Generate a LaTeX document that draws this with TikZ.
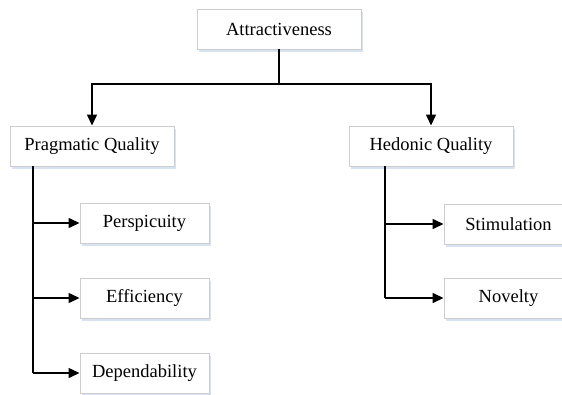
\documentclass[tikz,border=0pt]{standalone}
\usepackage{fontspec}
\setmainfont{Liberation Serif}
\usetikzlibrary{shadows,arrows.meta}
\definecolor{boxline}{RGB}{205,205,205}
\definecolor{shadowblue}{RGB}{205,220,240}
\tikzset{
  box/.style={draw=boxline, line width=0.9pt, fill=white, minimum width=164pt, minimum height=40pt,
    inner sep=0pt, font=\fontsize{18.5}{20}\selectfont,
    drop shadow={shadow xshift=1.5pt, shadow yshift=-2.5pt, fill=shadowblue, opacity=0.8}},
  smallbox/.style={box, minimum width=129pt},
  conn/.style={line width=1.4pt, -{Triangle[length=11pt,width=10pt]}},
  plain/.style={line width=1.4pt}
}
\begin{document}
\begin{tikzpicture}[x=1pt,y=-1pt]
\useasboundingbox (0,0) rectangle (562,394);
\node[box] (att) at (279,29) {Attractiveness};
\node[box] (prag) at (92,146) {Pragmatic Quality};
\node[box] (hed) at (431,146) {Hedonic Quality};
\node[smallbox] (per) at (144.5,223) {Perspicuity};
\node[smallbox] (eff) at (144.5,298) {Efficiency};
\node[smallbox] (dep) at (144.5,373) {Dependability};
\node[smallbox] (sti) at (508.5,224) {Stimulation};
\node[smallbox] (nov) at (508.5,298) {Novelty};
\coordinate (split) at (279,84);
\coordinate (pv) at (33,166);
\coordinate (hv) at (385,166);
\draw[plain] (att.south) -- (split);
\draw[conn] (split) -| (prag.north);
\draw[conn] (split) -| (hed.north);
\draw[plain] (pv) -- (pv |- dep.west);
\draw[conn] (pv |- per.west) -- (per.west);
\draw[conn] (pv |- eff.west) -- (eff.west);
\draw[conn] (pv |- dep.west) -- (dep.west);
\draw[plain] (hv) -- (hv |- nov.west);
\draw[conn] (hv |- sti.west) -- (sti.west);
\draw[conn] (hv |- nov.west) -- (nov.west);
\end{tikzpicture}
\end{document}
